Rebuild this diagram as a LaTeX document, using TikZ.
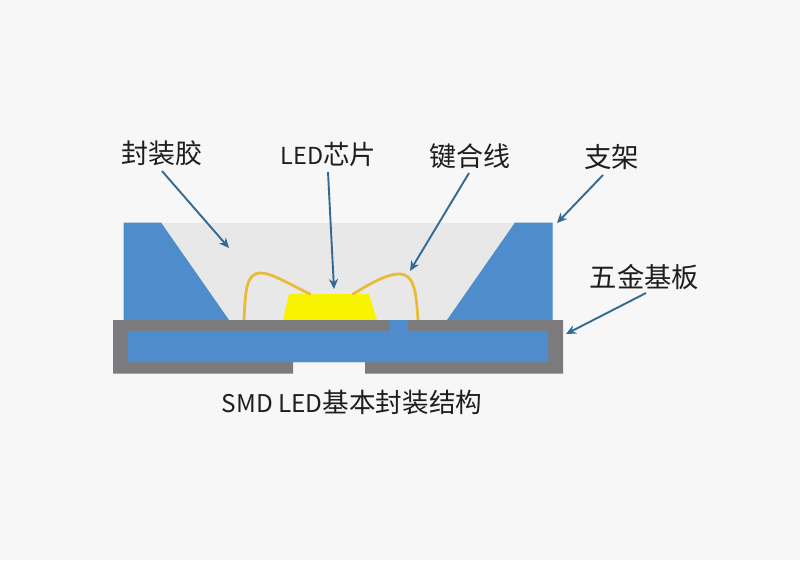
\documentclass[tikz,border=0pt]{standalone}
\usepackage{fontspec}
\setmainfont{Noto Sans CJK SC}
\usetikzlibrary{arrows.meta}
\definecolor{pagebg}{HTML}{F7F7F7}
\definecolor{gel}{HTML}{E8E8E9}
\definecolor{metal}{HTML}{4F8CCB}
\definecolor{frame}{HTML}{7B7B7D}
\definecolor{chip}{HTML}{F8F400}
\definecolor{wire}{HTML}{E8BC3A}
\definecolor{pointer}{HTML}{336A93}
\definecolor{ink}{HTML}{1E1E1E}
\tikzset{
  part/.style={fill=#1,draw=none},
  bondwire/.style={draw=wire,line width=2.8pt,line cap=round},
  callout/.style={draw=pointer,line width=1.9pt,-{Stealth[length=10pt,width=9pt]}},
  caption/.style={text=ink,inner sep=0pt,font=\fontsize{#1}{#1}\selectfont},
}
\begin{document}
\begin{tikzpicture}[x=1pt,y=-1pt]
\useasboundingbox (0,0) rectangle (800,560);
\fill[pagebg] (0,0) rectangle (800,560);
% encapsulant
\path[part=gel] (123.5,222.5) rectangle (553,320);
% brackets
\path[part=metal] (123.5,222.5) -- (161,222.5) -- (229,320) -- (123.5,320) -- cycle;
\path[part=metal] (515,222.5) -- (552.5,222.5) -- (552.5,320) -- (447,320) -- cycle;
% chip
\path[part=chip] (283,320) -- (289,294) -- (369,294) -- (377,320) -- cycle;
% bond wires
\draw[bondwire] (244,320) .. controls (245.5,290) and (246,273) .. (261,273) .. controls (272,273) and (295,287) .. (310,294);
\draw[bondwire] (418,320) .. controls (416,290) and (414,274) .. (399,274) .. controls (385,274) and (365,287) .. (353,294);
% lead frame
\path[part=frame] (113,320) -- (563,320) -- (563,373.5) -- (365,373.5) -- (365,362) -- (293,362) -- (293,373.5) -- (113,373.5) -- cycle;
\path[part=metal] (128,331) -- (390,331) -- (390,320) -- (408,320) -- (408,331) -- (548,331) -- (548,362) -- (128,362) -- cycle;
% labels
\node[caption=27] (gelLabel) at (161.5,153) {封装胶};
\node[caption=26.5] (chipLabel) at (328.5,154) {\fontsize{23.4}{23.4}\selectfont LED\fontsize{26.5}{26.5}\selectfont 芯片};
\node[caption=27] (wireLabel) at (470,156) {键合线};
\node[caption=27.5] (frameLabel) at (611.5,157) {支架};
\node[caption=27.3] (baseLabel) at (644.5,277) {五金基板};
\node[caption=26.5] (titleLabel) at (352,402) {\fontsize{24.4}{24.4}\selectfont SMD LED\fontsize{26.6}{26.6}\selectfont 基本封装结构};
% callout ends
\coordinate (gelFrom) at (162,171);   \coordinate (gelTo) at (229,248);
\coordinate (chipFrom) at (328,172);  \coordinate (chipTo) at (334,289);
\coordinate (wireFrom) at (469,173);  \coordinate (wireTo) at (410,271);
\coordinate (frameFrom) at (603,175); \coordinate (frameTo) at (557,223);
\coordinate (baseFrom) at (646,293);  \coordinate (baseTo) at (566,334);
\draw[callout] (gelFrom) -- (gelTo);
\draw[callout] (chipFrom) -- (chipTo);
\draw[callout] (wireFrom) -- (wireTo);
\draw[callout] (frameFrom) -- (frameTo);
\draw[callout] (baseFrom) -- (baseTo);
\end{tikzpicture}
\end{document}
